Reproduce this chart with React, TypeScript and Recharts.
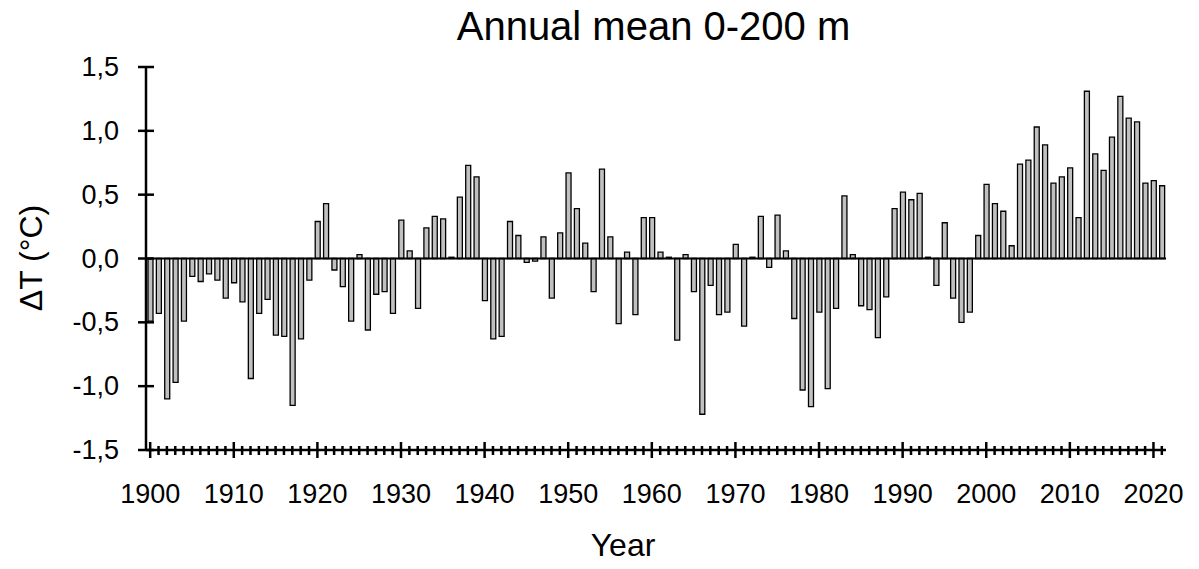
import React from "react";
import { BarChart, Bar, XAxis, YAxis, ReferenceLine } from "recharts";

const FONT = "'Liberation Sans', Arial, sans-serif";

const years: number[] = [];
for (let y = 1900; y <= 2021; y++) years.push(y);

// annual temperature anomaly, 0-200 m layer (°C)
const anomaly1900s = [-0.49, -0.43, -1.1, -0.97, -0.49, -0.14, -0.18, -0.12, -0.17, -0.31];
const anomaly1910s = [-0.19, -0.34, -0.94, -0.43, -0.32, -0.6, -0.61, -1.15, -0.63, -0.17];
const anomaly1920s = [0.29, 0.43, -0.09, -0.22, -0.49, 0.03, -0.56, -0.28, -0.26, -0.43];
const anomaly1930s = [0.3, 0.06, -0.39, 0.24, 0.33, 0.31, 0.01, 0.48, 0.73, 0.64];
const anomaly1940s = [-0.33, -0.63, -0.61, 0.29, 0.18, -0.03, -0.02, 0.17, -0.31, 0.2];
const anomaly1950s = [0.67, 0.39, 0.12, -0.26, 0.7, 0.17, -0.51, 0.05, -0.44, 0.32];
const anomaly1960s = [0.32, 0.05, 0.01, -0.64, 0.03, -0.26, -1.22, -0.21, -0.44, -0.42];
const anomaly1970s = [0.11, -0.53, 0.01, 0.33, -0.07, 0.34, 0.06, -0.47, -1.03, -1.16];
const anomaly1980s = [-0.42, -1.02, -0.39, 0.49, 0.03, -0.37, -0.4, -0.62, -0.3, 0.39];
const anomaly1990s = [0.52, 0.46, 0.51, 0.01, -0.21, 0.28, -0.31, -0.5, -0.42, 0.18];
const anomaly2000s = [0.58, 0.43, 0.37, 0.1, 0.74, 0.77, 1.03, 0.89, 0.59, 0.64];
const anomaly2010s = [0.71, 0.32, 1.31, 0.82, 0.69, 0.95, 1.27, 1.1, 1.07, 0.59];
const anomaly2020s = [0.61, 0.57];

const anomalies = [
  ...anomaly1900s, ...anomaly1910s, ...anomaly1920s, ...anomaly1930s,
  ...anomaly1940s, ...anomaly1950s, ...anomaly1960s, ...anomaly1970s,
  ...anomaly1980s, ...anomaly1990s, ...anomaly2000s, ...anomaly2010s,
  ...anomaly2020s,
];

const yTicks = [-1.5, -1.0, -0.5, 0, 0.5, 1.0, 1.5];

const rows = years.map((year, i) => ({ year, dT: anomalies[i] }));

const fmt = (v: number) => v.toFixed(1).replace(".", ",");

if (typeof document !== "undefined") document.body.style.margin = "0";

// ticks cross the axis line; only decades get a label
function YearTick(props: any) {
  const { x, y, payload } = props;
  const major = payload.value % 10 === 0;
  return (
    <g>
      <line x1={x} x2={x} y1={y - (major ? 8 : 4)} y2={y + (major ? 8 : 5)} stroke="#000" strokeWidth={2.5} />
      {major && (
        <text x={x} y={y + 44} textAnchor="middle" dominantBaseline="central" fontSize={27} fontFamily={FONT} fill="#000">
          {payload.value}
        </text>
      )}
    </g>
  );
}

function ValueTick(props: any) {
  const { x, y, payload } = props;
  return (
    <g>
      <line x1={x - 8} x2={x + 8} y1={y} y2={y} stroke="#000" strokeWidth={2.5} />
      <text x={x - 27} y={y} textAnchor="end" dominantBaseline="central" fontSize={27} fontFamily={FONT} fill="#000">
        {fmt(payload.value)}
      </text>
    </g>
  );
}

export default function App() {
  return (
    <div style={{ position: "relative", width: 1199, height: 569, background: "#fff", fontFamily: FONT }}>
      <div style={{ position: "absolute", left: 0, width: 1307, top: 6, textAlign: "center", fontSize: 40, lineHeight: "40px" }}>
        Annual mean 0-200 m
      </div>
      <div
        style={{
          position: "absolute",
          left: 31,
          top: 258,
          transform: "translate(-50%, -50%) rotate(-90deg)",
          fontSize: 32,
          whiteSpace: "nowrap",
        }}
      >
        ΔT (°C)
      </div>
      <div style={{ position: "absolute", left: 623, top: 545, transform: "translate(-50%, -50%)", fontSize: 32 }}>
        Year
      </div>
      <BarChart
        width={1199}
        height={569}
        data={rows}
        margin={{ top: 67, right: 33, bottom: 79, left: 86 }}
        barCategoryGap={0}
        style={{ position: "absolute", left: 0, top: 0 }}
      >
        <XAxis
          dataKey="year"
          interval={0}
          height={40}
          tickSize={0}
          tickMargin={0}
          tickLine={false}
          axisLine={{ stroke: "#000", strokeWidth: 2.5 }}
          tick={<YearTick />}
        />
        <YAxis
          width={60}
          domain={[-1.5, 1.5]}
          ticks={yTicks}
          tickSize={0}
          tickMargin={0}
          tickLine={false}
          axisLine={{ stroke: "#000", strokeWidth: 2.5 }}
          tick={<ValueTick />}
        />
        <ReferenceLine y={0} stroke="#000" strokeWidth={2} />
        <Bar dataKey="dT" fill="#c0c0c0" stroke="#000" strokeWidth={1.3} barSize={5} isAnimationActive={false} />
      </BarChart>
    </div>
  );
}
